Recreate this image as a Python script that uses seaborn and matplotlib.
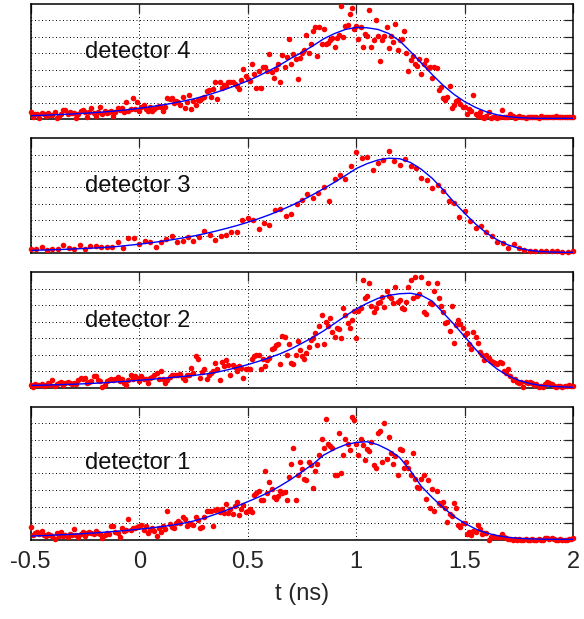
import matplotlib

matplotlib.use("Agg")
import matplotlib.pyplot as plt
import numpy as np
import seaborn as sns

# sample times (0.01 ns grid, detector 3 on a 0.025 ns grid) and fit grid
T_FINE = np.linspace(-0.5, 2.0, 251)
T_COARSE = np.linspace(-0.5, 2.0, 101)
T_FIT = np.linspace(-0.5, 2.0, 51)

DET4_COUNTS = [
    0.40, 0.15, 0.30, 0.30, 0.05, 0.35, 0.28, 0.20, 0.38, 0.25,
    0.26, 0.41, 0.08, 0.20, 0.30, 0.55, 0.55, 0.30, 0.45, 0.35,
    0.35, 0.06, 0.30, 0.51, 0.55, 0.45, 0.12, 0.40, 0.67, 0.35,
    0.20, 0.45, 0.75, 0.30, 0.51, 0.35, 0.40, 0.51, 0.20, 0.45,
    0.67, 0.55, 0.67, 0.41, 1.02, 0.51, 0.60, 1.26, 0.61, 1.02,
    0.51, 0.75, 0.87, 0.61, 0.51, 0.70, 0.51, 0.61, 0.71, 0.80,
    0.75, 0.51, 0.75, 1.28, 1.22, 1.26, 0.95, 1.12, 1.02, 0.85,
    1.36, 0.67, 1.02, 1.46, 0.61, 1.12, 0.87, 1.16, 1.16, 1.30,
    1.32, 1.73, 1.77, 1.32, 1.83, 2.28, 1.22, 2.28, 1.90, 2.05,
    2.03, 2.28, 2.28, 2.24, 2.13, 2.03, 1.83, 2.40, 3.05, 2.60,
    2.44, 2.34, 3.35, 2.74, 1.89, 2.95, 1.89, 3.15, 3.19, 2.90,
    3.96, 2.85, 2.48, 3.05, 3.35, 2.28, 3.90, 3.15, 3.76, 4.88,
    3.35, 3.96, 3.66, 2.44, 3.72, 4.00, 4.17, 5.10, 4.02, 4.57,
    5.35, 5.59, 3.86, 5.59, 4.57, 5.49, 4.57, 4.63, 4.78, 4.94,
    4.41, 4.94, 5.12, 6.85, 4.98, 5.63, 5.69, 6.36, 6.73, 5.45,
    5.63, 4.88, 5.59, 4.41, 5.18, 5.08, 6.65, 4.37, 4.78, 6.04,
    5.08, 3.52, 4.78, 5.02, 5.59, 4.31, 5.08, 4.67, 5.79, 4.17,
    4.82, 4.88, 5.35, 4.00, 2.95, 3.56, 3.86, 3.35, 3.25, 3.62,
    2.74, 3.35, 3.60, 3.09, 3.15, 2.50, 3.19, 3.11, 1.77, 1.97,
    1.26, 1.16, 1.32, 2.03, 0.67, 0.87, 1.12, 1.16, 0.91, 0.71,
    0.75, 0.30, 0.61, 0.51, 1.46, 0.30, 0.20, 0.41, 0.14, 0.05,
    0.20, 0.45, 0.03, 0.14, 0.14, 0.06, 0.10, 0.55, 0.10, 0.10,
    0.10, 0.30, 0.20, 0.06, 0.14, 0.20, 0.10, 0.10, 0.06, 0.10,
    0.10, 0.10, 0.10, 0.14, 0.06, 0.20, 0.10, 0.10, 0.10, 0.14,
    0.10, 0.10, 0.20, 0.10, 0.10, 0.10, 0.10, 0.14, 0.10, 0.10,
    0.12,
]

DET3_COUNTS = [
    0.24, 0.24, 0.35, 0.18, 0.24, 0.20, 0.50, 0.28, 0.20, 0.47,
    0.24, 0.43, 0.43, 0.35, 0.35, 0.35, 0.67, 0.30, 0.91, 0.87,
    0.53, 0.71, 0.67, 0.37, 0.67, 0.81, 1.00, 0.67, 0.73, 0.96,
    0.71, 0.96, 1.32, 1.08, 0.75, 1.00, 1.10, 1.28, 1.26, 1.99,
    2.15, 1.97, 1.46, 1.83, 1.67, 2.62, 2.66, 2.22, 2.36, 2.99,
    3.21, 3.60, 3.35, 3.64, 4.00, 3.15, 4.53, 4.76, 4.51, 5.28,
    6.18, 5.79, 5.83, 5.06, 5.49, 5.65, 6.22, 5.63, 5.39, 5.73,
    5.30, 5.16, 4.57, 4.43, 3.96, 4.15, 3.80, 3.17, 3.01, 2.17,
    2.54, 1.91, 1.52, 1.63, 1.26, 1.04, 0.65, 0.59, 0.26, 0.53,
    0.28, 0.16, 0.12, 0.10, 0.10, 0.08, 0.10, 0.10, 0.04, 0.02,
    0.08,
]

DET2_COUNTS = [
    0.18, 0.04, 0.22, 0.14, 0.18, 0.24, 0.10, 0.18, 0.30, 0.14,
    0.45, 0.10, 0.24, 0.30, 0.35, 0.18, 0.30, 0.35, 0.28, 0.20,
    0.30, 0.24, 0.45, 0.59, 0.55, 0.59, 0.30, 0.35, 0.40, 0.71,
    0.71, 0.45, 0.39, 0.02, 0.14, 0.39, 0.45, 0.55, 0.45, 0.50,
    0.65, 0.39, 0.55, 0.30, 0.18, 0.45, 0.75, 0.55, 0.71, 0.60,
    0.39, 0.71, 0.55, 0.51, 0.30, 0.59, 0.65, 0.75, 0.91, 0.55,
    1.00, 0.55, 0.30, 0.45, 0.65, 0.79, 0.75, 0.75, 0.79, 0.85,
    0.59, 0.45, 0.79, 0.75, 1.20, 0.91, 1.93, 1.73, 0.59, 0.96,
    1.12, 0.55, 0.75, 0.91, 1.00, 1.52, 1.16, 0.45, 1.57, 1.30,
    1.67, 1.36, 0.79, 1.36, 1.26, 1.00, 1.32, 1.20, 0.59, 1.12,
    1.12, 1.12, 1.77, 1.93, 1.97, 2.01, 1.16, 1.77, 1.32, 1.65,
    1.81, 2.34, 2.38, 2.58, 2.62, 1.42, 3.15, 3.09, 2.01, 2.62,
    1.52, 1.46, 1.97, 2.83, 2.28, 1.93, 1.77, 2.13, 2.48, 2.89,
    3.03, 3.29, 2.58, 3.76, 4.41, 2.62, 4.00, 3.76, 4.20, 3.39,
    3.09, 3.60, 3.56, 2.99, 4.86, 4.41, 3.90, 3.64, 4.10, 4.65,
    3.03, 4.65, 4.86, 6.54, 5.43, 5.59, 6.34, 4.98, 4.57, 4.86,
    5.12, 5.22, 5.53, 4.92, 5.87, 5.59, 5.43, 5.12, 6.08, 5.18,
    5.33, 4.86, 4.78, 5.22, 6.08, 6.54, 5.43, 6.69, 5.59, 5.67,
    6.69, 4.57, 4.45, 6.34, 5.12, 5.06, 5.87, 6.34, 5.43, 4.98,
    4.57, 3.90, 4.00, 3.43, 4.98, 2.74, 3.80, 4.10, 3.84, 3.60,
    3.19, 3.29, 2.68, 2.34, 3.35, 3.09, 2.74, 2.17, 1.97, 1.67,
    1.97, 1.81, 1.61, 1.57, 1.52, 1.46, 1.57, 1.52, 1.00, 0.91,
    1.12, 0.71, 0.45, 0.55, 0.35, 0.30, 0.35, 0.02, 0.35, 0.30,
    0.35, 0.30, 0.18, 0.24, 0.02, 0.10, 0.04, 0.24, 0.35, 0.30,
    0.24, 0.10, 0.02, 0.10, 0.10, 0.04, 0.10, 0.10, 0.14, 0.10,
    0.10,
]

DET1_COUNTS = [
    0.78, 0.28, 0.40, 0.48, 0.34, 0.54, 0.30, 0.24, 0.36, 0.30,
    0.24, 0.04, 0.44, 0.24, 0.48, 0.24, 0.30, 0.20, 0.34, 0.30,
    0.64, 0.28, 0.20, 0.34, 0.48, 0.24, 0.40, 0.48, 0.44, 0.38,
    0.54, 0.44, 0.34, 0.14, 0.28, 0.44, 0.38, 0.84, 0.84, 0.50,
    0.44, 0.20, 0.74, 0.54, 0.60, 1.28, 0.60, 0.74, 0.74, 0.80,
    0.84, 0.88, 0.60, 0.84, 0.44, 0.60, 0.75, 0.54, 0.24, 0.70,
    0.48, 0.84, 0.64, 1.74, 0.94, 0.80, 0.74, 1.00, 1.14, 1.00,
    1.40, 1.28, 0.84, 1.04, 0.94, 0.88, 1.40, 1.20, 0.74, 0.80,
    1.40, 1.74, 1.74, 1.74, 0.84, 1.80, 1.84, 1.68, 1.84, 1.64,
    2.14, 1.60, 1.88, 1.54, 2.04, 2.28, 1.48, 1.84, 2.08, 1.68,
    1.74, 1.88, 1.68, 2.68, 2.84, 2.94, 2.40, 2.40, 4.14, 2.84,
    3.48, 3.04, 2.60, 2.48, 2.64, 2.94, 2.80, 2.88, 2.40, 3.80,
    4.54, 5.54, 2.40, 3.88, 4.68, 4.24, 3.68, 3.60, 4.68, 4.48,
    3.14, 4.14, 4.54, 5.08, 6.08, 5.54, 7.28, 5.74, 5.64, 5.54,
    3.88, 3.88, 6.40, 4.00, 5.08, 6.08, 5.74, 5.40, 7.40, 7.20,
    5.74, 5.08, 6.08, 5.68, 4.80, 5.48, 5.34, 5.88, 4.48, 4.34,
    6.44, 6.54, 4.68, 7.00, 4.88, 6.20, 5.24, 4.54, 5.04, 3.88,
    5.48, 5.40, 4.34, 4.68, 4.34, 3.88, 5.24, 3.68, 3.20, 3.14,
    3.68, 3.88, 2.48, 3.60, 1.94, 3.04, 1.74, 2.94, 2.20, 2.08,
    2.28, 1.94, 1.08, 1.54, 1.44, 2.20, 1.94, 0.88, 0.80, 1.00,
    1.00, 0.34, 0.48, 0.28, 0.54, 0.48, 0.88, 0.64, 0.34, 0.44,
    0.40, 0.02, 0.20, 0.24, 0.20, 0.20, 0.20, 0.34, 0.20, 0.14,
    0.08, 0.04, 0.02, 0.04, 0.02, 0.04, 0.02, 0.02, 0.04, 0.02,
    0.02, 0.04, 0.02, 0.02, 0.04, 0.02, 0.02, 0.10, 0.12, 0.04,
    0.10, 0.04, 0.02, 0.02, 0.04, 0.02, 0.02, 0.02, 0.04, 0.08,
    0.10,
]

DET4_FIT = [
    0.20, 0.22, 0.25, 0.28, 0.31, 0.35, 0.39, 0.44, 0.50, 0.57,
    0.65, 0.74, 0.84, 0.95, 1.08, 1.22, 1.40, 1.60, 1.82, 2.06,
    2.32, 2.62, 2.95, 3.30, 3.70, 4.05, 4.45, 4.88, 5.20, 5.45,
    5.57, 5.55, 5.45, 5.20, 4.75, 4.10, 3.40, 2.70, 2.05, 1.50,
    1.05, 0.70, 0.43, 0.25, 0.14, 0.08, 0.05, 0.04, 0.04, 0.04, 0.04,
]
DET3_FIT = [
    0.14, 0.16, 0.18, 0.20, 0.23, 0.26, 0.29, 0.33, 0.38, 0.45,
    0.52, 0.60, 0.69, 0.79, 0.90, 1.02, 1.16, 1.31, 1.48, 1.66,
    1.86, 2.08, 2.32, 2.59, 2.88, 3.20, 3.55, 3.92, 4.31, 4.72,
    5.15, 5.45, 5.67, 5.78, 5.75, 5.52, 5.10, 4.55, 3.85, 3.10,
    2.40, 1.75, 1.20, 0.78, 0.47, 0.27, 0.14, 0.07, 0.04, 0.02, 0.02,
]
DET2_FIT = [
    0.14, 0.15, 0.17, 0.19, 0.21, 0.24, 0.27, 0.31, 0.35, 0.40,
    0.45, 0.50, 0.56, 0.62, 0.68, 0.74, 0.82, 0.92, 1.06, 1.22,
    1.40, 1.60, 1.82, 2.06, 2.35, 2.70, 3.05, 3.45, 3.90, 4.35,
    4.78, 5.12, 5.42, 5.60, 5.70, 5.73, 5.60, 5.25, 4.55, 3.85,
    3.09, 2.32, 1.65, 1.12, 0.72, 0.44, 0.25, 0.14, 0.08, 0.05, 0.03,
]
DET1_FIT = [
    0.24, 0.26, 0.29, 0.32, 0.35, 0.39, 0.43, 0.48, 0.53, 0.59,
    0.65, 0.72, 0.80, 0.89, 1.00, 1.14, 1.32, 1.54, 1.78, 2.03,
    2.30, 2.58, 2.88, 3.25, 3.65, 4.10, 4.55, 5.10, 5.45, 5.72,
    5.86, 5.90, 5.72, 5.40, 4.95, 4.15, 3.22, 2.55, 1.95, 1.42,
    1.00, 0.66, 0.42, 0.26, 0.16, 0.10, 0.07, 0.05, 0.04, 0.04, 0.04,
]

LABELS = ["detector 4", "detector 3", "detector 2", "detector 1"]
X_TICKS = [-0.5, 0, 0.5, 1, 1.5, 2]
X_TICK_LABELS = ["-0.5", "0", "0.5", "1", "1.5", "2"]

sns.set_style("white")
plt.rcParams["font.family"] = ["Liberation Sans", "DejaVu Sans"]


def draw_panel(ax, t, counts, fit, label, ymax, label_y, bottom=False):
    sns.scatterplot(x=t, y=counts, ax=ax, color="#ff0000", s=16, linewidth=0,
                    clip_on=False, zorder=3)
    sns.lineplot(x=T_FIT, y=fit, ax=ax, color="#0000ff", linewidth=1.0, zorder=4)
    ax.set_xlim(-0.5, 2.0)
    ax.set_ylim(0, ymax)
    ax.set_xticks(X_TICKS)
    ax.set_yticks(range(1, ymax))
    ax.grid(True, color="black", linestyle=(0, (1, 2.6)), linewidth=0.7)
    ax.tick_params(direction="in", length=6.5, width=0.9, top=True, right=True,
                   labelleft=False, labelbottom=bottom, labelsize=17, pad=8)
    for sp in ax.spines.values():
        sp.set_linewidth(1.1)
        sp.set_color("black")
    if bottom:
        ax.set_xticklabels(X_TICK_LABELS)
        ax.set_xlabel("t (ns)", fontsize=17, labelpad=7)
    ax.set_ylabel("")
    ax.text(-0.25, label_y, label, fontsize=17, va="baseline", ha="left", color="#111111")


fig = plt.figure(figsize=(5.84, 6.19), dpi=100)
left, width = 0.0526, 0.9291
ax4 = fig.add_axes([left, 0.8078, width, 0.1858])
ax3 = fig.add_axes([left, 0.5918, width, 0.1848])
ax2 = fig.add_axes([left, 0.3737, width, 0.1864])
ax1 = fig.add_axes([left, 0.1276, width, 0.2153])

draw_panel(ax4, T_FINE, DET4_COUNTS, DET4_FIT, LABELS[0], 7, 3.7)
draw_panel(ax3, T_COARSE, DET3_COUNTS, DET3_FIT, LABELS[1], 7, 3.7)
draw_panel(ax2, T_FINE, DET2_COUNTS, DET2_FIT, LABELS[2], 7, 3.7)
draw_panel(ax1, T_FINE, DET1_COUNTS, DET1_FIT, LABELS[3], 8, 4.25, bottom=True)

fig.savefig("out.png", dpi=100)
